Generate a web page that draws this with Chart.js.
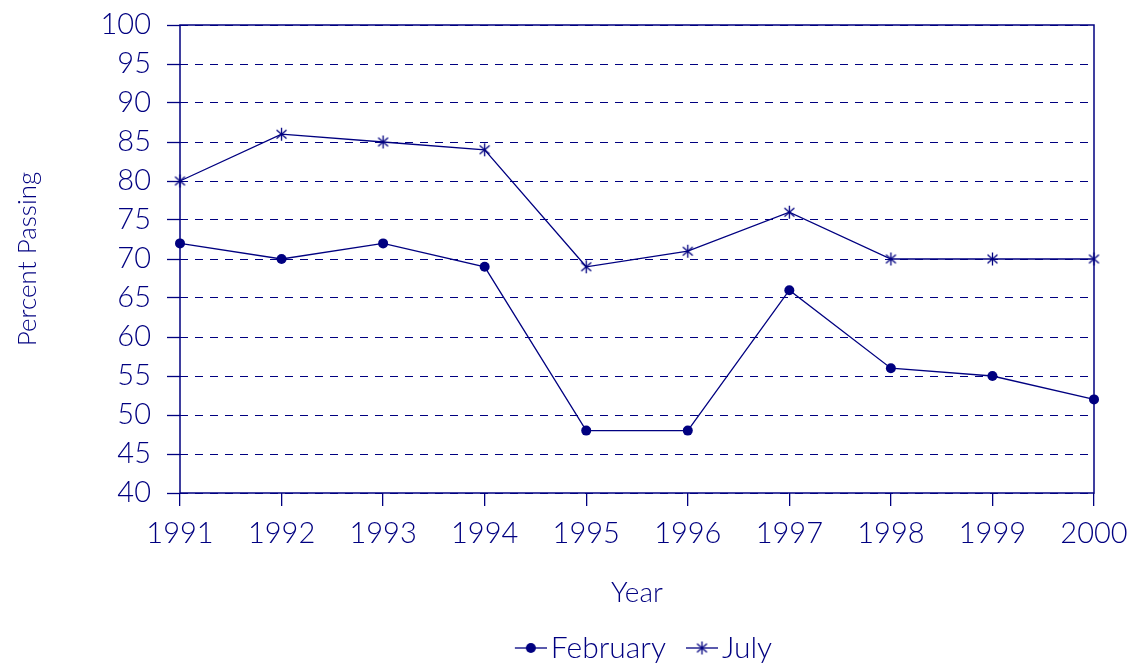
<!DOCTYPE html>
<html>
<head>
<meta charset="utf-8">
<script src="https://cdn.jsdelivr.net/npm/chart.js@4"></script>
<style>
  html, body { margin: 0; background: #fff; }
  #wrap { width: 1138px; height: 669px; }
</style>
</head>
<body>
<div id="wrap"><canvas id="passing"></canvas></div>
<script>
var years = ['1991', '1992', '1993', '1994', '1995', '1996', '1997', '1998', '1999', '2000'];
var february = [72, 70, 72, 69, 48, 48, 66, 56, 55, 52];
var july = [80, 86, 85, 84, 69, 71, 76, 70, 70, 70];
var yMin = 40, yMax = 100, yStep = 5;

var navy = '#000080';
var fontFamily = 'Lato, "Open Sans", sans-serif';

// asterisk marker: vertical stroke plus two slanted ones
function starImage(size) {
    var c = document.createElement('canvas');
    c.width = c.height = size;
    var g = c.getContext('2d');
    g.strokeStyle = navy;
    g.lineWidth = 1.3;
    var m = size / 2, r = size / 2 - 1;
    [90, 40, 140].forEach(function (deg) {
        var a = deg * Math.PI / 180;
        g.beginPath();
        g.moveTo(m - r * Math.cos(a), m - r * Math.sin(a));
        g.lineTo(m + r * Math.cos(a), m + r * Math.sin(a));
        g.stroke();
    });
    return c;
}

// legend sample: short line with the marker in the middle, pushed to the right
// of the image so the blank left part works as spacing between items
function legendImage(kind) {
    var c = document.createElement('canvas');
    c.width = 56; c.height = 18;
    var g = c.getContext('2d');
    g.strokeStyle = navy;
    g.fillStyle = navy;
    g.lineWidth = 1.3;
    g.beginPath(); g.moveTo(24, 9); g.lineTo(56, 9); g.stroke();
    if (kind === 'dot') {
        g.beginPath(); g.arc(40, 9, 5, 0, Math.PI * 2); g.fill();
    } else {
        g.drawImage(starImage(15), 40 - 7.5, 9 - 7.5);
    }
    return c;
}

var plotBox = {
    id: 'plotBox',
    beforeDatasetsDraw: function (chart) {
        var a = chart.chartArea, ctx = chart.ctx;
        ctx.save();
        ctx.strokeStyle = navy;
        ctx.lineWidth = 1.5;
        ctx.strokeRect(a.left, a.top, a.right - a.left, a.bottom - a.top);
        ctx.restore();
    }
};

var ctx = document.getElementById('passing').getContext('2d');
var passingChart = new Chart(ctx, {
    type: 'line',
    data: {
        labels: years,
        datasets: [{
            label: 'February',
            data: february,
            borderColor: navy,
            backgroundColor: navy,
            borderWidth: 1.3,
            pointStyle: 'circle',
            pointRadius: 5,
            pointBorderWidth: 0,
            tension: 0
        }, {
            label: 'July',
            data: july,
            borderColor: navy,
            backgroundColor: navy,
            borderWidth: 1.3,
            pointStyle: starImage(15),
            pointRadius: 7,
            tension: 0
        }]
    },
    options: {
        responsive: true,
        maintainAspectRatio: false,
        animation: false,
        events: [],
        layout: { padding: { top: 25, right: 44, bottom: -4, left: 0 } },
        scales: {
            x: {
                offset: false,
                afterFit: function (s) { s.height = 133; s.paddingLeft = 0; s.paddingRight = 0; },
                grid: { drawOnChartArea: false, drawTicks: true, tickLength: 13, color: navy, lineWidth: 1.3 },
                border: { display: false },
                ticks: { color: navy, padding: 10, maxRotation: 0, autoSkip: false, font: { family: fontFamily, size: 29, weight: 300 } },
                title: { display: true, text: 'Year', color: navy, padding: { top: 0, bottom: 16 }, font: { family: fontFamily, size: 28, weight: 300 } }
            },
            y: {
                min: yMin,
                max: yMax,
                afterFit: function (s) { s.width = 180; s.paddingTop = 0; s.paddingBottom = 0; },
                grid: { color: navy, lineWidth: 1, drawTicks: true, tickLength: 13, tickColor: navy, tickWidth: 1.3, tickBorderDash: [] },
                border: { display: false, dash: [8, 7] },
                ticks: { stepSize: yStep, autoSkip: false, color: navy, padding: 16, font: { family: fontFamily, size: 29, weight: 300 } },
                title: { display: true, text: 'Percent Passing', color: navy, padding: { top: 12, bottom: 0 }, font: { family: fontFamily, size: 26, weight: 300 } }
            }
        },
        plugins: {
            tooltip: { enabled: false },
            legend: {
                position: 'bottom',
                fullSize: false,
                labels: {
                    color: navy,
                    font: { family: fontFamily, size: 30, weight: 300 },
                    usePointStyle: true,
                    pointStyleWidth: 34,
                    padding: 7,
                    generateLabels: function (chart) {
                        return chart.data.datasets.map(function (ds, i) {
                            return {
                                text: ds.label,
                                datasetIndex: i,
                                pointStyle: legendImage(i === 0 ? 'dot' : 'star'),
                                fontColor: navy,
                                strokeStyle: navy,
                                fillStyle: navy,
                                lineWidth: 0
                            };
                        });
                    }
                }
            }
        }
    },
    plugins: [plotBox]
});
</script>
</body>
</html>
